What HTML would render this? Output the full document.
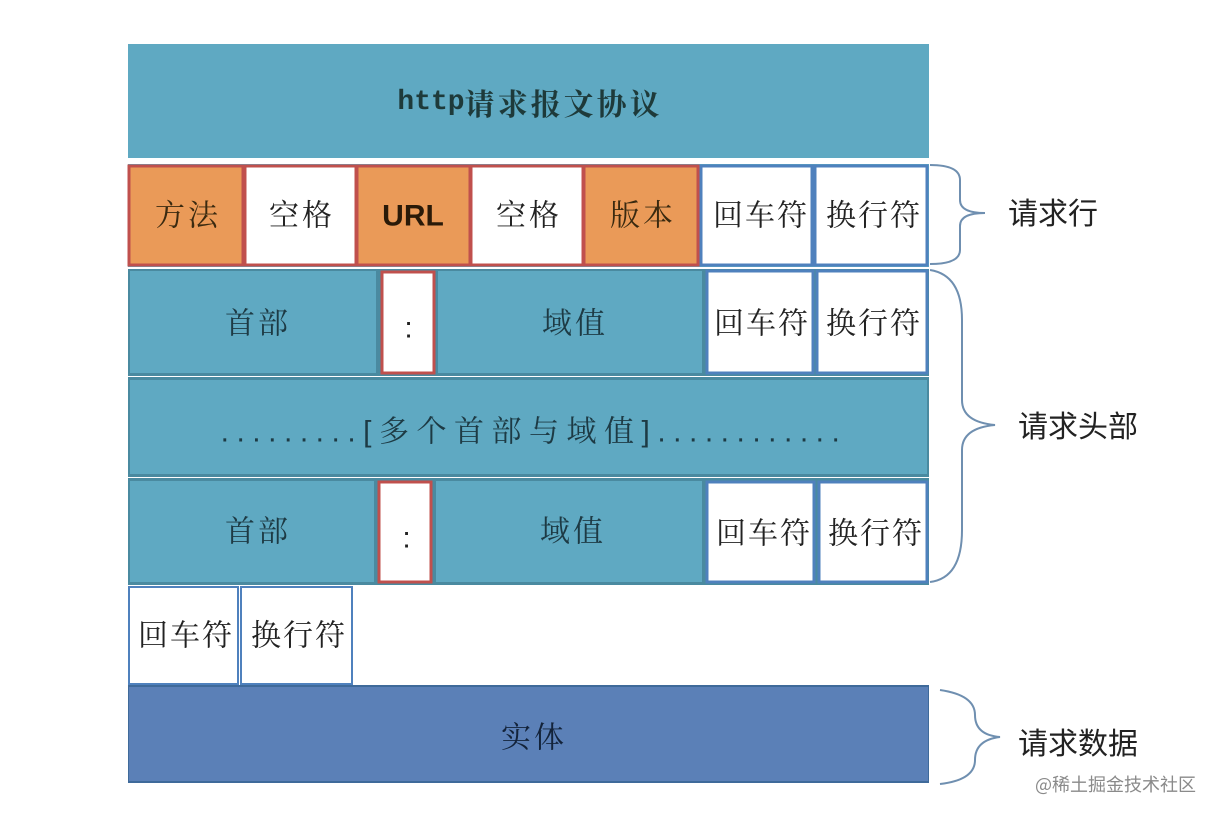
<!DOCTYPE html>
<html><head><meta charset="utf-8"><style>
html,body{margin:0;padding:0;background:#fff;width:1216px;height:816px;overflow:hidden}
svg text{font-family:"Liberation Sans","Noto Serif CJK SC","Noto Sans CJK SC",sans-serif;dominant-baseline:central;text-anchor:middle}
.c{letter-spacing:3px}
</style></head><body>
<svg width="1216" height="816" viewBox="0 0 1216 816" xmlns="http://www.w3.org/2000/svg">
<g font-size="30" fill="#222">
<rect x="128" y="44" width="801" height="114" fill="#5fa9c2"/>
<text x="530" y="102" fill="#1e3a3a" font-size="30"><tspan style="font-family:'Liberation Mono',monospace" font-weight="bold" font-size="28">http</tspan><tspan style="font-family:'Noto Serif CJK SC',serif" font-weight="bold" letter-spacing="3">请求报文协议</tspan></text>
<rect x="128" y="164" width="801" height="103" fill="#5fa9c2"/>
<g stroke="#c0504d" stroke-width="3">
<rect x="129" y="166" width="114" height="99" fill="#ea9a58"/>
<rect x="245" y="166" width="111" height="99" fill="#fff"/>
<rect x="357" y="166" width="113" height="99" fill="#ea9a58"/>
<rect x="471" y="166" width="112" height="99" fill="#fff"/>
<rect x="584" y="166" width="114" height="99" fill="#ea9a58"/>
</g>
<g stroke="#4f81bd" stroke-width="3" fill="#fff">
<rect x="701" y="166" width="111" height="99"/>
<rect x="815" y="166" width="112" height="99"/>
</g>
<g class="c">
<text x="188" y="216" fill="#3a2a10">方法</text>
<text x="302" y="216">空格</text>
<text x="413" y="216" fill="#2a1a08" font-weight="bold" letter-spacing="0" style="font-family:'Liberation Sans Narrow','Liberation Sans',sans-serif">URL</text>
<text x="529" y="216">空格</text>
<text x="643" y="216" fill="#3a2a10">版本</text>
<text x="761" y="216" letter-spacing="2">回车符</text>
<text x="874" y="216" letter-spacing="2">换行符</text>
</g>
<rect x="128" y="269" width="801" height="107" fill="#4a8aa0"/>
<rect x="130" y="271" width="246" height="102" fill="#5fa9c2"/>
<rect x="382" y="272" width="52" height="101" fill="#fff" stroke="#c0504d" stroke-width="3"/>
<rect x="438" y="271" width="264" height="102" fill="#5fa9c2"/>
<rect x="707" y="271" width="106" height="102" fill="#fff" stroke="#4f81bd" stroke-width="3"/>
<rect x="817" y="271" width="110" height="102" fill="#fff" stroke="#4f81bd" stroke-width="3"/>
<g class="c">
<text x="258" y="324" fill="#1d3a44">首部</text>
<text x="410" y="328">:</text>
<text x="575" y="324" fill="#1d3a44">域值</text>
<text x="762" y="324" letter-spacing="2">回车符</text>
<text x="874" y="324" letter-spacing="2">换行符</text>
</g>
<rect x="128" y="377" width="801" height="100" fill="#4a8aa0"/>
<rect x="130" y="380" width="797" height="94" fill="#5fa9c2"/>
<text x="534" y="432" fill="#1d3a44" letter-spacing="7.5">.........[多个首部与域值]............</text>
<rect x="128" y="478" width="801" height="107" fill="#4a8aa0"/>
<rect x="130" y="481" width="244" height="101" fill="#5fa9c2"/>
<rect x="379" y="482" width="52" height="100" fill="#fff" stroke="#c0504d" stroke-width="3"/>
<rect x="436" y="481" width="266" height="101" fill="#5fa9c2"/>
<rect x="707" y="482" width="107" height="100" fill="#fff" stroke="#4f81bd" stroke-width="3"/>
<rect x="819" y="482" width="108" height="100" fill="#fff" stroke="#4f81bd" stroke-width="3"/>
<g class="c">
<text x="258" y="532" fill="#1d3a44">首部</text>
<text x="408" y="538">:</text>
<text x="573" y="532" fill="#1d3a44">域值</text>
<text x="764" y="534" letter-spacing="2">回车符</text>
<text x="876" y="534" letter-spacing="2">换行符</text>
<text x="186" y="636" letter-spacing="2">回车符</text>
<text x="299" y="636" letter-spacing="2">换行符</text>
</g>
<rect x="129" y="587" width="109" height="97" fill="#fff" stroke="#4f81bd" stroke-width="2"/>
<rect x="241" y="587" width="111" height="97" fill="#fff" stroke="#4f81bd" stroke-width="2"/>
<g class="c">
<text x="186" y="636" letter-spacing="2">回车符</text>
<text x="299" y="636" letter-spacing="2">换行符</text>
</g>
<rect x="128" y="685" width="801" height="98" fill="#3f6a9a"/>
<rect x="129" y="687" width="799" height="94" fill="#5b80b7"/>
<text x="534" y="738" fill="#13233a" letter-spacing="3">实体</text>
</g>
<g fill="none" stroke="#6f8fb0" stroke-width="2">
<path d="M930 165 Q960 165 960 180 L960 200 Q960 213 985 213 Q960 213 960 226 L960 250 Q960 264 930 264"/>
<path d="M930 270 Q962 275 962 320 L962 400 Q962 422 995 425 Q962 428 962 450 L962 530 Q962 578 930 582"/>
<path d="M940 690 Q975 695 975 715 Q975 735 1000 737 Q975 740 975 760 Q975 780 940 784"/>
</g>
<g font-size="30" fill="#222">
<text x="1008" y="211" style="text-anchor:start;font-family:'Noto Sans CJK SC',sans-serif">请求行</text>
<text x="1018" y="424" style="text-anchor:start;font-family:'Noto Sans CJK SC',sans-serif">请求头部</text>
<text x="1018" y="741" style="text-anchor:start;font-family:'Noto Sans CJK SC',sans-serif">请求数据</text>
</g>
<text x="1035" y="784" font-size="18" fill="#8a8a8a" style="text-anchor:start;font-family:'Noto Sans CJK SC',sans-serif">@稀土掘金技术社区</text>
</svg>
</body></html>
